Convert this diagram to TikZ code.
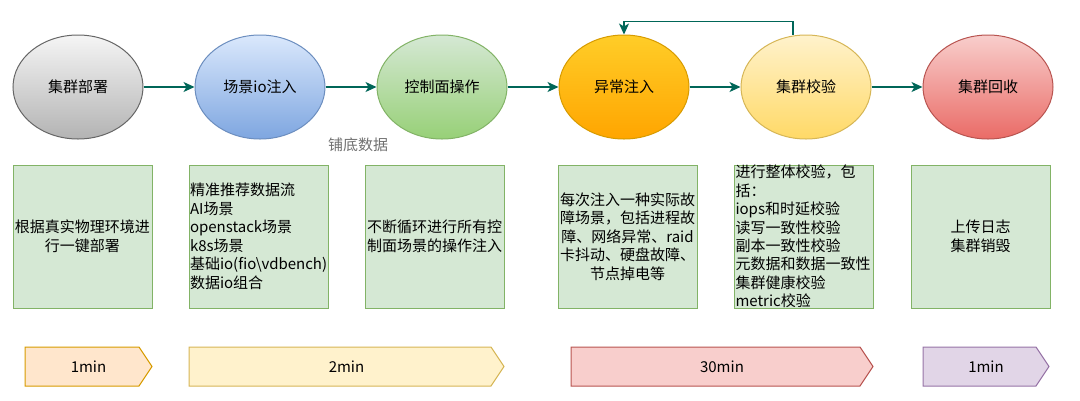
\documentclass[tikz,border=0pt]{standalone}
\usepackage{fontspec}
\setmainfont{Noto Sans CJK SC}
\usetikzlibrary{shapes.geometric,arrows.meta}

\definecolor{flowc}{HTML}{006658}
\definecolor{labelgray}{HTML}{707070}
\definecolor{gline}{HTML}{666666}
\definecolor{gtop}{HTML}{F5F5F5}
\definecolor{gbot}{HTML}{B3B3B3}
\definecolor{bline}{HTML}{6C8EBF}
\definecolor{btop}{HTML}{DAE8FC}
\definecolor{bbot}{HTML}{7EA6E0}
\definecolor{gnline}{HTML}{82B366}
\definecolor{gntop}{HTML}{D5E8D4}
\definecolor{gnbot}{HTML}{97D077}
\definecolor{oline}{HTML}{D79B00}
\definecolor{otop}{HTML}{FFCD28}
\definecolor{obot}{HTML}{FFA500}
\definecolor{yline}{HTML}{D6B656}
\definecolor{ytop}{HTML}{FFF2CC}
\definecolor{ybot}{HTML}{FFD966}
\definecolor{rline}{HTML}{B85450}
\definecolor{rtop}{HTML}{F8CECC}
\definecolor{rbot}{HTML}{EA6B66}
\definecolor{afill}{HTML}{FFE6CC}
\definecolor{dfill}{HTML}{E1D5E7}
\definecolor{dline}{HTML}{9673A6}

\begin{document}
\begin{tikzpicture}[x=1pt,y=-1pt,
  every node/.style={font=\fontsize{15}{18.5}\selectfont},
  stage/.style n args={3}{ellipse,draw=#1,top color=#2,bottom color=#3,line width=1pt,minimum width=130pt,minimum height=104pt,inner sep=0pt},
  descbox/.style={draw=gnline,fill=gntop,line width=1pt,minimum width=139pt,minimum height=143pt,text width=137pt,inner xsep=1pt,inner ysep=3pt},
  flow/.style={draw=flowc,line width=1.2pt,-{Stealth[length=11pt,width=10pt,inset=3pt]}}]
\useasboundingbox (0,0) rectangle (1080,400);

% stages
\node[stage={gline}{gtop}{gbot}] (deploy) at (78,87) {集群部署};
\node[stage={bline}{btop}{bbot}] (ioinj) at (260,87) {场景io注入};
\node[stage={gnline}{gntop}{gnbot}] (ctrl) at (442,87) {控制面操作};
\node[stage={oline}{otop}{obot}] (fault) at (624,87) {异常注入};
\node[stage={yline}{ytop}{ybot}] (check) at (806,87) {集群校验};
\node[stage={rline}{rtop}{rbot}] (reclaim) at (988,87) {集群回收};
\node[text=labelgray] (base) at (358,145) {铺底数据};

\draw[flow] (deploy) -- (ioinj);
\draw[flow] (ioinj) -- (ctrl);
\draw[flow] (ctrl) -- (fault);
\draw[flow] (fault) -- (check);
\draw[flow] (check) -- (reclaim);
\draw[flow] ([xshift=-13pt]check.north) -- ++(0,-13) -| (fault.north);

% descriptions
\node[descbox,align=center] (deploytxt) at (82.5,236.5) {根据真实物理环境进\\行一键部署};
\node[descbox,align=left] (ioinjtxt) at (258.5,236.5) {精准推荐数据流\\AI场景\\openstack场景\\k8s场景\\基础io(fio\textbackslash vdbench)\\数据io组合};
\node[descbox,align=center] (ctrltxt) at (434.5,236.5) {不断循环进行所有控\\制面场景的操作注入};
\node[descbox,align=center] (faulttxt) at (627.5,236.5) {每次注入一种实际故\\障场景，包括进程故\\障、网络异常、raid\\卡抖动、硬盘故障、\\节点掉电等};
\node[descbox,align=left,inner ysep=-3pt] (checktxt) at (804,236.5) {进行整体校验，包\\括：\\iops和时延校验\\读写一致性校验\\副本一致性校验\\元数据和数据一致性\\集群健康校验\\metric校验};
\node[descbox,align=center] (reclaimtxt) at (980.5,236.5) {上传日志\\集群销毁};

% time bars
\foreach \xa/\xb/\fc/\dc/\nm/\lbl in {25/152/afill/oline/tdeploy/1min,189/504/ytop/yline/tprep/2min,571/873/rtop/rline/tfault/30min,923/1049/dfill/dline/treclaim/1min} {
  \draw[fill=\fc,draw=\dc,line width=1pt] (\xa,347) -- (\xb-13,347) -- (\xb,366.5) -- (\xb-13,386) -- (\xa,386) -- cycle;
  \node (\nm) at ({(\xa+\xb)/2},366.5) {\lbl};
}
\end{tikzpicture}
\end{document}
